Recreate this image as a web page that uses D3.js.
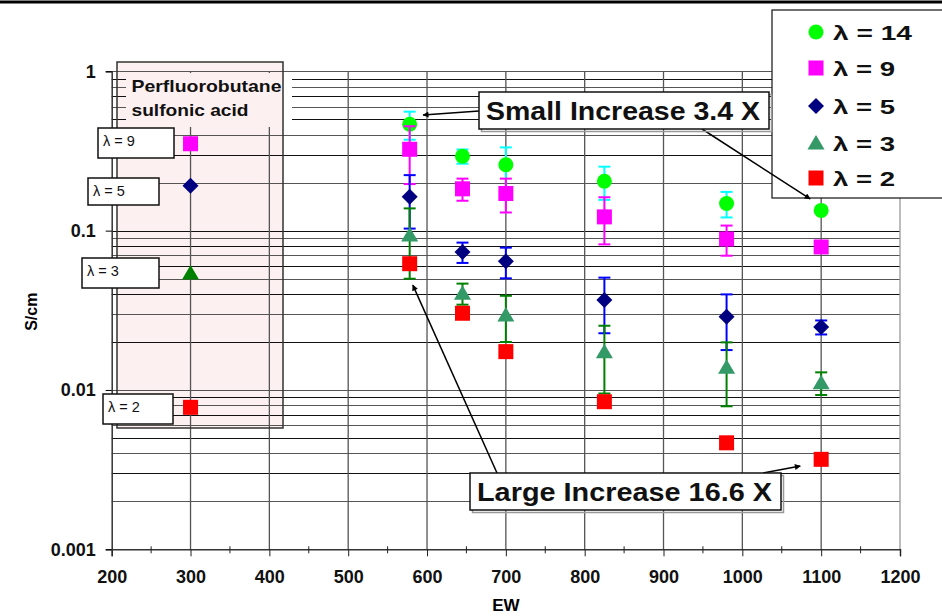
<!DOCTYPE html>
<html>
<head>
<meta charset="utf-8">
<script src="https://cdn.jsdelivr.net/npm/d3@7"></script>
<style>
  body { margin: 0; background: #fff; }
  svg { display: block; font-family: Arial, "Liberation Sans", sans-serif; }
</style>
</head>
<body>
<svg id="chart" width="942" height="616"></svg>
<script>
// EW values of the series (membranes)
const ew = [578, 645, 700, 825, 980, 1100];

// conductivity S/cm per hydration level, with +/- error
const lam14 = [0.465, 0.293, 0.259, 0.204, 0.148, 0.134];
const lam14Err = [0.093, 0.030, 0.074, 0.048, 0.027, 0.006];
const lam9 = [0.324, 0.183, 0.171, 0.122, 0.0886, 0.079];
const lam9Err = [0.128, 0.029, 0.041, 0.040, 0.019, 0.005];
const lam5 = [0.163, 0.0734, 0.0642, 0.0367, 0.0288, 0.0248];
const lam5Err = [0.060, 0.0107, 0.014, 0.014, 0.011, 0.0025];
const lam3 = [0.0939, 0.0404, 0.0295, 0.0174, 0.0139, 0.0111];
const lam3Err = [0.044, 0.0061, 0.0095, 0.0079, 0.006, 0.0018];
const lam2 = [0.062, 0.0303, 0.0174, 0.00844, 0.00466, 0.00367];

// perfluorobutane sulfonic acid reference points
const pfbsEw = 300;
const pfbsLabels = ['λ = 9', 'λ = 5', 'λ = 3', 'λ = 2'];
const pfbsVals = [0.351, 0.191, 0.0542, 0.00778];

const xTicks = [200, 300, 400, 500, 600, 700, 800, 900, 1000, 1100, 1200];
const yTicks = [0.001, 0.01, 0.1, 1];
const yTickLabels = ['0.001', '0.01', '0.1', '1'];

const series = [
  {name: 'λ = 14', vals: lam14, err: lam14Err, shape: 'circle', fill: '#00ff00', bar: '#00ffff'},
  {name: 'λ = 9', vals: lam9, err: lam9Err, shape: 'square', fill: '#ff00ff', bar: '#ff00ff'},
  {name: 'λ = 5', vals: lam5, err: lam5Err, shape: 'diamond', fill: '#000080', bar: '#0000ff'},
  {name: 'λ = 3', vals: lam3, err: lam3Err, shape: 'triangle', fill: '#339966', bar: '#008000'},
  {name: 'λ = 2', vals: lam2, err: null, shape: 'square', fill: '#ff0000', bar: null},
];

const svg = d3.select('#chart');
const W = 942;
const plot = {left: 111.7, right: 900, top: 71.3, bottom: 549.3};

const x = d3.scaleLinear().domain([200, 1200]).range([plot.left, plot.right]);
const y = d3.scaleLog().domain([0.001, 1]).range([plot.bottom, plot.top]);

function marker(g, shape, fill) {
  if (shape === 'circle') {
    g.append('circle').attr('r', 7.5).attr('fill', fill);
  } else if (shape === 'square') {
    g.append('rect').attr('x', -7.5).attr('y', -7.5).attr('width', 15).attr('height', 15).attr('fill', fill);
  } else if (shape === 'diamond') {
    g.append('path').attr('d', 'M0,-8L8,0L0,8L-8,0Z').attr('fill', fill);
  } else {
    g.append('path').attr('d', 'M0,-8L8.5,6.5L-8.5,6.5Z').attr('fill', fill);
  }
}

// top rule
svg.append('line')
  .attr('x1', 0).attr('x2', W).attr('y1', 2).attr('y2', 2)
  .attr('stroke', '#000').attr('stroke-width', 3);

// pfbs shaded box (behind the grid)
const pinkBox = {x0: 117, x1: 283, y0: 62, y1: 428};
svg.append('rect')
  .attr('x', pinkBox.x0).attr('y', pinkBox.y0)
  .attr('width', pinkBox.x1 - pinkBox.x0).attr('height', pinkBox.y1 - pinkBox.y0)
  .attr('fill', '#fdf0f0');

// grid
const hGrid = [];
[0.001, 0.01, 0.1].forEach((d) => {
  for (let k = 1; k < 10; k++) hGrid.push(d * k);
});
hGrid.push(1);

svg.append('g').attr('class', 'hgrid')
  .selectAll('line').data(hGrid).join('line')
    .attr('x1', plot.left).attr('x2', plot.right)
    .attr('y1', (d) => Math.round(y(d)) + 0.5).attr('y2', (d) => Math.round(y(d)) + 0.5)
    .attr('stroke', (d, i) => (i % 2 ? '#555' : '#111'))
    .attr('stroke-width', 1);

svg.append('g').attr('class', 'vgrid')
  .selectAll('line').data(xTicks.slice(1)).join('line')
    .attr('x1', (d) => x(d)).attr('x2', (d) => x(d))
    .attr('y1', plot.top).attr('y2', plot.bottom)
    .attr('stroke', (d) => (d === 1200 ? '#999' : '#555'))
    .attr('stroke-width', 1.3);

// axes
const xAxis = svg.append('g')
  .attr('transform', `translate(0,${plot.bottom})`)
  .call(d3.axisBottom(x).tickValues(xTicks).tickSize(7).tickPadding(14).tickFormat(d3.format('d')));
xAxis.select('.domain').attr('stroke', '#333').attr('stroke-width', 1.5);
xAxis.selectAll('.tick line').attr('stroke', '#222');
xAxis.selectAll('text').attr('font-size', 18).attr('font-weight', 'bold').attr('fill', '#111')
  .attr('font-family', 'Arial, "Liberation Sans", sans-serif');

// minor x ticks
svg.append('g').selectAll('line')
  .data(d3.range(250, 1200, 100)).join('line')
    .attr('x1', (d) => x(d)).attr('x2', (d) => x(d))
    .attr('y1', plot.bottom - 3).attr('y2', plot.bottom + 4)
    .attr('stroke', '#222');

const yAxis = svg.append('g')
  .attr('transform', `translate(${plot.left},0)`)
  .call(d3.axisLeft(y).tickValues(yTicks).tickSize(6).tickPadding(10)
    .tickFormat((d, i) => yTickLabels[i]));
yAxis.select('.domain').attr('stroke', '#333').attr('stroke-width', 1.5);
yAxis.selectAll('text').attr('font-size', 18).attr('font-weight', 'bold').attr('fill', '#111')
  .attr('font-family', 'Arial, "Liberation Sans", sans-serif');

svg.append('text')
  .attr('x', x(700)).attr('y', 611)
  .attr('text-anchor', 'middle')
  .attr('font-size', 17).attr('font-weight', 'bold')
  .text('EW');

svg.append('text')
  .attr('transform', `translate(37,${y(0.031)}) rotate(-90)`)
  .attr('text-anchor', 'middle')
  .attr('font-size', 16).attr('font-weight', 'bold')
  .text('S/cm');

// pfbs title box
svg.append('rect').attr('x', 126).attr('y', 73).attr('width', 166).attr('height', 54).attr('fill', '#fff');
svg.append('rect').attr('x', 126).attr('y', 73).attr('width', pinkBox.x1 - 126).attr('height', 54).attr('fill', '#fdf0f0');
svg.append('rect')
  .attr('x', pinkBox.x0).attr('y', pinkBox.y0)
  .attr('width', pinkBox.x1 - pinkBox.x0).attr('height', pinkBox.y1 - pinkBox.y0)
  .attr('fill', 'none').attr('stroke', '#333').attr('stroke-width', 1.5);
svg.append('text').attr('x', 131.5).attr('y', 92)
  .attr('font-size', 17).attr('font-weight', 'bold').attr('fill', '#111')
  .attr('textLength', 150).attr('lengthAdjust', 'spacingAndGlyphs')
  .text('Perfluorobutane');
svg.append('text').attr('x', 131.5).attr('y', 115.5)
  .attr('font-size', 17).attr('font-weight', 'bold').attr('fill', '#111')
  .attr('textLength', 117).attr('lengthAdjust', 'spacingAndGlyphs')
  .text('sulfonic acid');

// pfbs points
const pfbsShapes = [series[1], series[2], {shape: 'triangle', fill: '#008000'}, series[4]];
pfbsVals.forEach((v, i) => {
  const g = svg.append('g').attr('transform', `translate(${x(pfbsEw)},${y(v)})`);
  marker(g, pfbsShapes[i].shape, pfbsShapes[i].fill);
});

// pfbs label boxes
const pfbsBoxes = [
  {x: 98, y: 128, w: 76, h: 30},
  {x: 88, y: 178, w: 71, h: 27},
  {x: 82, y: 258, w: 77, h: 30},
  {x: 103, y: 394, w: 70, h: 30},
];
pfbsBoxes.forEach((b, i) => {
  svg.append('rect').attr('x', b.x).attr('y', b.y).attr('width', b.w).attr('height', b.h)
    .attr('fill', '#fff').attr('stroke', '#111').attr('stroke-width', 1.5);
  svg.append('text').attr('x', b.x + 5).attr('y', b.y + 18)
    .attr('font-size', 14.5).attr('fill', '#111')
    .text(pfbsLabels[i]);
});

// series with error bars
series.forEach((s) => {
  const g = svg.append('g').attr('class', 'series');
  if (s.err) {
    const bars = g.selectAll('.err').data(ew.map((e, i) => ({e, v: s.vals[i], d: s.err[i]})))
      .join('g').attr('class', 'err')
      .attr('stroke', s.bar).attr('stroke-width', 2);
    bars.append('line')
      .attr('x1', (d) => x(d.e)).attr('x2', (d) => x(d.e))
      .attr('y1', (d) => y(d.v + d.d)).attr('y2', (d) => y(d.v - d.d));
    bars.append('line')
      .attr('x1', (d) => x(d.e) - 6).attr('x2', (d) => x(d.e) + 6)
      .attr('y1', (d) => y(d.v + d.d)).attr('y2', (d) => y(d.v + d.d));
    bars.append('line')
      .attr('x1', (d) => x(d.e) - 6).attr('x2', (d) => x(d.e) + 6)
      .attr('y1', (d) => y(d.v - d.d)).attr('y2', (d) => y(d.v - d.d));
  }
  g.selectAll('.pt').data(ew.map((e, i) => ({e, v: s.vals[i]})))
    .join('g').attr('class', 'pt')
    .attr('transform', (d) => `translate(${x(d.e)},${y(d.v)})`)
    .each(function () { marker(d3.select(this), s.shape, s.fill); });
});

// legend
const legend = svg.append('g').attr('transform', 'translate(772,10)');
legend.append('rect').attr('x', 0).attr('y', 0).attr('width', 180).attr('height', 188)
  .attr('fill', '#fff').attr('stroke', '#111').attr('stroke-width', 1.2);
const rowY = [22, 58, 96, 133, 168];
const rowLen = [79, 62, 62, 62, 62];
series.forEach((s, i) => {
  const g = legend.append('g').attr('transform', `translate(44,${rowY[i]})`);
  marker(g, s.shape, s.fill);
  legend.append('text').attr('x', 61).attr('y', rowY[i] + 8)
    .attr('font-size', 21).attr('font-weight', 'bold').attr('fill', '#111')
    .attr('textLength', rowLen[i]).attr('lengthAdjust', 'spacingAndGlyphs')
    .text(s.name);
});

// annotations (drawn over the legend)
svg.append('defs').append('marker')
  .attr('id', 'arrow').attr('viewBox', '0 0 10 10')
  .attr('refX', 9).attr('refY', 5)
  .attr('markerWidth', 7).attr('markerHeight', 6).attr('orient', 'auto')
  .attr('markerUnits', 'userSpaceOnUse')
  .append('path').attr('d', 'M0,0L10,5L0,10Z').attr('fill', '#000');

const arrows = [
  {from: [479, 111], to: [595, 0.532]},
  {from: [702, 129], to: [1086, 0.158]},
  {from: [497, 473], to: [582, 0.0455]},
  {from: [763, 473], to: [1073.5, 0.00333]},
];
arrows.forEach((a) => {
  svg.append('line')
    .attr('x1', a.from[0]).attr('y1', a.from[1])
    .attr('x2', x(a.to[0])).attr('y2', y(a.to[1]))
    .attr('stroke', '#000').attr('stroke-width', 1.5)
    .attr('marker-end', 'url(#arrow)');
});

const callouts = [
  {text: 'Small Increase 3.4 X', x: 479, y: 92, w: 290, h: 37, len: 274},
  {text: 'Large Increase 16.6 X', x: 470, y: 473, w: 311, h: 37, len: 295},
];
callouts.forEach((c) => {
  svg.append('rect').attr('x', c.x + 2.5).attr('y', c.y + 2.5).attr('width', c.w).attr('height', c.h)
    .attr('fill', 'none').attr('stroke', '#999').attr('stroke-width', 1.5);
  svg.append('rect').attr('x', c.x).attr('y', c.y).attr('width', c.w).attr('height', c.h)
    .attr('fill', '#fff').attr('stroke', '#111').attr('stroke-width', 1.5);
  svg.append('text').attr('x', c.x + 7).attr('y', c.y + 27.5)
    .attr('font-size', 25).attr('font-weight', 'bold').attr('fill', '#111')
    .attr('textLength', c.len).attr('lengthAdjust', 'spacingAndGlyphs')
    .text(c.text);
});
</script>
</body>
</html>
